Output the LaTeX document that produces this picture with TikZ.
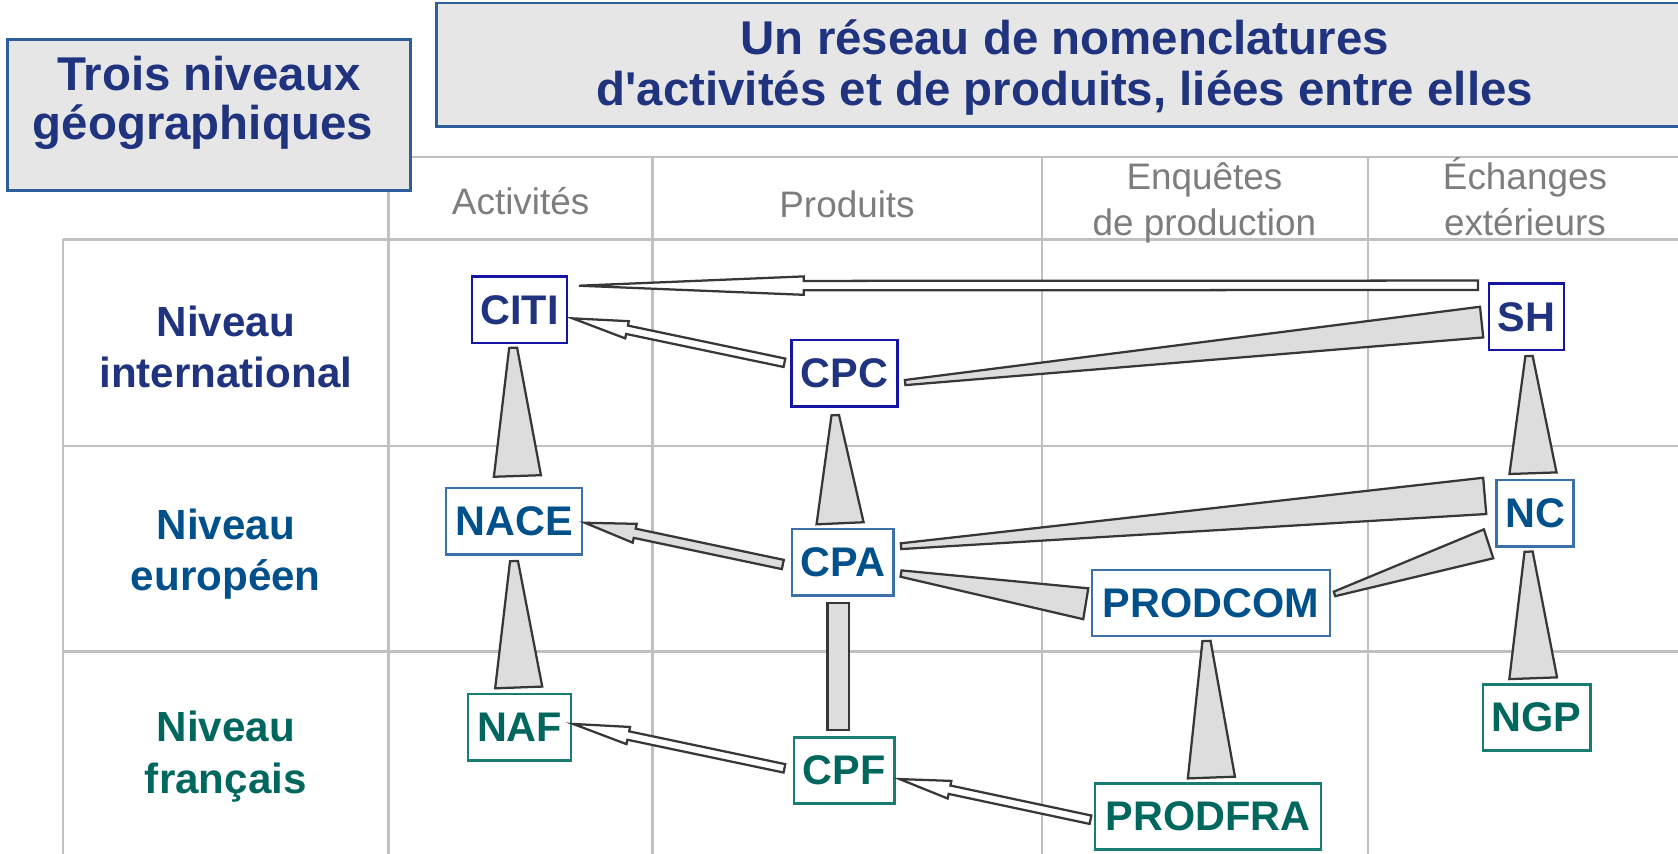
\documentclass[tikz,border=0pt]{standalone}
\usepackage{fontspec}
\setmainfont{Liberation Sans}
\usetikzlibrary{calc}
\definecolor{navy}{RGB}{31,51,127}
\definecolor{eublue}{RGB}{0,80,140}
\definecolor{frteal}{RGB}{0,103,95}
\definecolor{intborder}{RGB}{20,20,165}
\definecolor{euborder}{RGB}{60,112,168}
\definecolor{frborder}{RGB}{25,125,115}
\definecolor{headgray}{RGB}{125,125,125}
\definecolor{gridgray}{RGB}{192,192,192}
\definecolor{boxfill}{RGB}{230,230,230}
\definecolor{boxborder}{RGB}{47,95,155}
\definecolor{wedgefill}{RGB}{221,221,221}
\definecolor{wedgeline}{RGB}{55,55,55}
% tapered link: #1 narrow end, #2 wide end, #3 narrow half-width, #4 wide half-width (px)
\newcommand\wedgelink[4]{%
  \draw[wedgestyle] ($(#1)!#3*0.28453pt!90:(#2)$) -- ($(#1)!#3*0.28453pt!-90:(#2)$)
    -- ($(#2)!#4*0.28453pt!90:(#1)$) -- ($(#2)!#4*0.28453pt!-90:(#1)$) -- cycle;}
% block arrow: #1 tail, #2 tip, #3 shaft half-width, #4 head half-width, #5 head length (px), #6 style
\newcommand\blockarrow[6]{%
  \coordinate (fabase) at ($(#2)!#5*0.28453pt!(#1)$);
  \draw[#6] ($(#1)!#3*0.28453pt!90:(#2)$) -- ($(fabase)!#3*0.28453pt!90:(#2)$)
    -- ($(fabase)!#4*0.28453pt!90:(#2)$) -- (#2) -- ($(fabase)!#4*0.28453pt!-90:(#2)$)
    -- ($(fabase)!#3*0.28453pt!-90:(#2)$) -- ($(#1)!#3*0.28453pt!-90:(#2)$) -- cycle;}
\begin{document}
\begin{tikzpicture}[x=0.01cm,y=-0.01cm,
  gridline/.style={draw=gridgray,line width=0.6pt},
  titlebox/.style={draw=boxborder,fill=boxfill,line width=0.7pt,inner sep=0pt},
  titletext/.style={text=navy,font=\bfseries\fontsize{12.6pt}{13pt}\selectfont,inner sep=0pt,anchor=base},
  colhead/.style={text=headgray,font=\fontsize{9.8pt}{12.2pt}\selectfont,align=center,inner sep=0pt},
  rowhead/.style={font=\bfseries\fontsize{11.2pt}{13.6pt}\selectfont,align=center,inner sep=0pt},
  nomen/.style={draw,fill=white,line width=0.65pt,inner sep=0pt,minimum height=0.62cm,
    font=\bfseries\fontsize{11pt}{13pt}\selectfont},
  intl/.style={nomen,draw=intborder,text=navy},
  euro/.style={nomen,draw=euborder,text=eublue},
  fran/.style={nomen,draw=frborder,text=frteal},
  wedgestyle/.style={draw=wedgeline,fill=wedgefill,line width=0.6pt,line join=miter},
  hollowarrow/.style={draw=wedgeline,fill=white,line width=0.6pt,line join=miter},
  grayarrow/.style={draw=wedgeline,fill=wedgefill,line width=0.6pt,line join=miter}]
\useasboundingbox (0,0) rectangle (1568,798);
% grid
\draw[gridline] (363,146.4) -- (1590,146.4);
\draw[gridline] (59,223.7) -- (1590,223.7);
\draw[gridline] (59,416.7) -- (1590,416.7);
\draw[gridline] (59,608.8) -- (1590,608.8);
\draw[gridline] (59,223.7) -- (59,810);
\draw[gridline] (363,146.4) -- (363,810);
\draw[gridline] (609.7,146.4) -- (609.7,810);
\draw[gridline] (973.8,146.4) -- (973.8,810);
\draw[gridline] (1278.5,146.4) -- (1278.5,810);
% title boxes
\node[titlebox,minimum width=11.74cm,minimum height=1.154cm] (title) at (995,60.7) {};
\node[titletext] (title1) at (995,51.4) {Un réseau de nomenclatures};
\node[titletext] (title2) at (995,99) {d\textquotesingle activités et de produits, liées entre elles};
\node[titlebox,minimum width=3.764cm,minimum height=1.414cm] (geo) at (195.2,107.5) {};
\node[titletext] (geo1) at (195.2,84.7) {Trois niveaux};
\node[titletext] (geo2) at (189.5,130.8) {géographiques};
% column headers
\node[colhead] (hact) at (486.5,187.5) {Activités};
\node[colhead] (hprod) at (791.5,190.5) {Produits};
\node[colhead] (henq) at (1125.5,190) {Enquêtes\\de production};
\node[colhead] (hech) at (1425,184) {Échanges\\extérieurs};
% row headers
\node[rowhead,text=navy] (rint) at (211,324) {Niveau\\international};
\node[rowhead,text=eublue] (reur) at (211,518) {Niveau\\européen};
\node[rowhead,text=frteal] (rfr) at (211,707) {Niveau\\français};
% nomenclatures
\node[intl,minimum width=0.89cm] (citi) at (485.5,289.5) {CITI};
\node[intl,minimum width=0.99cm] (cpc) at (789,349) {CPC};
\node[intl,minimum width=0.70cm] (sh) at (1426.5,296) {SH};
\node[euro,minimum width=1.27cm] (nace) at (480.5,487) {NACE};
\node[euro,minimum width=0.95cm] (cpa) at (787.5,525.5) {CPA};
\node[euro,minimum width=0.72cm] (nc) at (1434.5,479.5) {NC};
\node[euro,minimum width=2.22cm] (prodcom) at (1131.5,563.5) {PRODCOM};
\node[fran,minimum width=0.96cm] (naf) at (485.5,679.5) {NAF};
\node[fran,minimum width=0.94cm] (cpf) at (789,720) {CPF};
\node[fran,minimum width=1.00cm] (ngp) at (1436,670.5) {NGP};
\node[fran,minimum width=2.11cm] (prodfra) at (1129,763) {PRODFRA};
% arrows
\coordinate (a1t) at ($(sh)+(-45.5,-29.4)$);
\coordinate (a1h) at ($(citi)+(55.5,-22.5)$);
\blockarrow{a1t}{a1h}{4.4}{8.6}{210}{hollowarrow}
\coordinate (a2t) at ($(cpc)+(-56,-10)$);
\coordinate (a2h) at ($(citi)+(49.5,8)$);
\blockarrow{a2t}{a2h}{4}{8.2}{52}{hollowarrow}
\coordinate (a3t) at ($(cpa)+(-56,2)$);
\coordinate (a3h) at ($(nace)+(66,1.5)$);
\blockarrow{a3t}{a3h}{4.4}{9}{47.6}{grayarrow}
\coordinate (a4t) at ($(cpf)+(-56,-2)$);
\coordinate (a4h) at ($(naf)+(50,-3)$);
\blockarrow{a4t}{a4h}{4}{8.2}{52.7}{hollowarrow}
\coordinate (a5t) at ($(prodfra)+(-110,3)$);
\coordinate (a5h) at ($(cpf)+(51.5,8)$);
\blockarrow{a5t}{a5h}{4}{8.4}{47.8}{hollowarrow}
% tapered links
\coordinate (w1n) at ($(citi)+(-6,35.5)$);
\coordinate (w1w) at ($(nace)+(3,-42.2)$);
\wedgelink{w1n}{w1w}{3.7}{22}
\coordinate (w2n) at ($(cpc)+(-8.5,39)$);
\coordinate (w2w) at ($(cpa)+(-2.5,-36.5)$);
\wedgelink{w2n}{w2w}{3.5}{22}
\coordinate (w3n) at ($(nace)+(-0.2,37.3)$);
\coordinate (w3w) at ($(naf)+(-0.8,-37.1)$);
\wedgelink{w3n}{w3w}{3.7}{22}
\coordinate (w4n) at ($(cpa)+(-4.3,38.3)$);
\coordinate (w4w) at ($(cpf)+(-5.8,-37.8)$);
\wedgelink{w4n}{w4w}{9.85}{9.85}
\coordinate (w5n) at ($(cpc)+(56.8,8.5)$);
\coordinate (w5w) at ($(sh)+(-42,5)$);
\wedgelink{w5n}{w5w}{2.4}{14.4}
\coordinate (w6n) at ($(cpa)+(54.5,-15.1)$);
\coordinate (w6w) at ($(nc)+(-47.1,-16.1)$);
\wedgelink{w6n}{w6w}{2.7}{17}
\coordinate (w7n) at ($(cpa)+(54.5,10.5)$);
\coordinate (w7w) at ($(prodcom)+(-116.9,0.7)$);
\wedgelink{w7n}{w7w}{3}{14.6}
\coordinate (w8n) at ($(prodcom)+(115.5,-8.5)$);
\coordinate (w8w) at ($(nc)+(-43.5,28.7)$);
\wedgelink{w8n}{w8w}{2.2}{14.2}
\coordinate (w9n) at ($(sh)+(2.3,36.7)$);
\coordinate (w9w) at ($(nc)+(-2,-37.3)$);
\wedgelink{w9n}{w9w}{3.4}{22}
\coordinate (w10n) at ($(nc)+(-6.1,36)$);
\coordinate (w10w) at ($(ngp)+(-3.3,-36.7)$);
\wedgelink{w10n}{w10w}{3.8}{22.3}
\coordinate (w11n) at ($(prodcom)+(-4.1,35.5)$);
\coordinate (w11w) at ($(prodfra)+(3,-36.4)$);
\wedgelink{w11n}{w11w}{3.8}{22}
\end{tikzpicture}
\end{document}
